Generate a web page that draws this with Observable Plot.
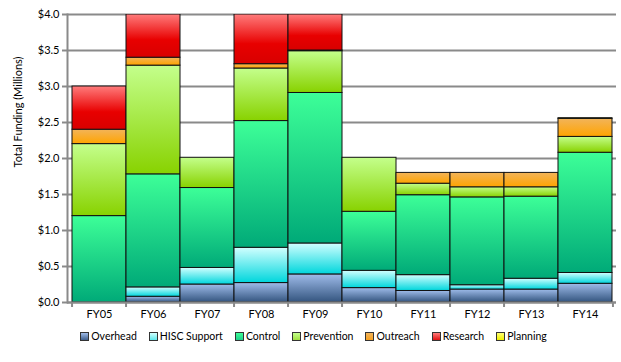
<!DOCTYPE html>
<html>
<head>
<meta charset="utf-8">
<script src="https://cdn.jsdelivr.net/npm/d3@7"></script>
<script src="https://cdn.jsdelivr.net/npm/@observablehq/plot@0.6"></script>
<style>
  html, body { margin: 0; padding: 0; background: #fff; }
  body { width: 621px; height: 362px; overflow: hidden; font-family: Lato, "Liberation Sans", sans-serif; }
  #legend { display: flex; justify-content: center; gap: 12px; font-size: 10.5px; color: #000; margin-top: 7px; margin-left: 6px; line-height: 14px; }
  #legend span.item { display: inline-flex; align-items: center; }
  #legend span.sw { display: inline-block; width: 7px; height: 7px; border: 1px solid #333; margin-right: 2px; }
</style>
</head>
<body>
<svg width="0" height="0" style="position:absolute">
  <defs id="grads"></defs>
</svg>
<div id="chart"></div>
<div id="legend"></div>
<script>
const years = ["FY05","FY06","FY07","FY08","FY09","FY10","FY11","FY12","FY13","FY14"];
const seriesNames = ["Overhead","HISC Support","Control","Prevention","Outreach","Research","Planning"];
const overhead    = [0.00, 0.08, 0.25, 0.27, 0.39, 0.20, 0.16, 0.18, 0.18, 0.26];
const hiscSupport = [0.00, 0.13, 0.23, 0.49, 0.43, 0.24, 0.22, 0.06, 0.15, 0.15];
const control     = [1.20, 1.57, 1.11, 1.76, 2.09, 0.82, 1.11, 1.22, 1.14, 1.67];
const prevention  = [1.00, 1.51, 0.42, 0.73, 0.58, 0.75, 0.16, 0.14, 0.13, 0.22];
const outreach    = [0.20, 0.11, 0.00, 0.06, 0.01, 0.00, 0.15, 0.20, 0.20, 0.25];
const research    = [0.60, 0.60, 0.00, 0.69, 0.50, 0.00, 0.00, 0.00, 0.00, 0.00];
const planning    = [0.00, 0.00, 0.00, 0.00, 0.00, 0.00, 0.00, 0.00, 0.00, 0.01];
const yTicks = [0, 0.5, 1, 1.5, 2, 2.5, 3, 3.5, 4];

// gradient colours (top, bottom) per series
const gradStops = [
  ["#9fbcea", "#34557f"],
  ["#d2ffff", "#00d6dc"],
  ["#3dff98", "#00aa78"],
  ["#c4ff8c", "#88d200"],
  ["#f2b45a", "#ffa400"],
  ["#ff7c7c", "#e80000"],
  ["#ffff70", "#e8e000"]
];
const legendSwatch = ["#3f5f8c","#5ce8ec","#1fd08a","#a0e040","#f6a020","#e01010","#f0f000"];

const defs = document.getElementById("grads");
const ns = "http://www.w3.org/2000/svg";
gradStops.forEach((s, i) => {
  const g = document.createElementNS(ns, "linearGradient");
  g.setAttribute("id", "grad" + i);
  g.setAttribute("x1", "0"); g.setAttribute("y1", "0");
  g.setAttribute("x2", "0"); g.setAttribute("y2", "1");
  const st1 = document.createElementNS(ns, "stop");
  st1.setAttribute("offset", "0"); st1.setAttribute("stop-color", s[0]);
  const st2 = document.createElementNS(ns, "stop");
  st2.setAttribute("offset", i === 5 ? "0.6" : "1"); st2.setAttribute("stop-color", s[1]);
  g.appendChild(st1); g.appendChild(st2);
  if (i === 5) {
    const st3 = document.createElementNS(ns, "stop");
    st3.setAttribute("offset", "1"); st3.setAttribute("stop-color", "#d80000");
    g.appendChild(st3);
  }
  defs.appendChild(g);
});

const allSeries = [overhead, hiscSupport, control, prevention, outreach, research, planning];
const data = [];
years.forEach((yr, j) => {
  allSeries.forEach((arr, i) => {
    data.push({year: yr, series: seriesNames[i], value: arr[j]});
  });
});

const W = 621, H = 322, mL = 67, mR = 5, mT = 14, mB = 20;
const bw = (W - mL - mR) / years.length;
const gridColor = "#8a8a8a";

const chart = Plot.plot({
  width: W, height: H,
  marginLeft: mL, marginRight: mR, marginTop: mT, marginBottom: mB,
  style: {fontFamily: "Lato, 'Liberation Sans', sans-serif", fontSize: "11px", color: "#000", background: "#fff"},
  x: {domain: years, padding: 0, label: null},
  y: {domain: [0, 4], label: null},
  color: {domain: seriesNames, range: seriesNames.map((_, i) => `url(#grad${i})`)},
  marks: [
    Plot.ruleY(yTicks, {stroke: gridColor, strokeWidth: 2}),
    Plot.barY(data.filter(d => d.value > 0), {
      x: "year", y: "value", fill: "series", order: seriesNames,
      stroke: "#111", strokeWidth: 1, inset: 0, clip: true
    }),
    Plot.ruleY([0], {stroke: gridColor, strokeWidth: 2}),
    Plot.frame({anchor: "left", stroke: gridColor, strokeWidth: 2}),
    Plot.axisY({ticks: yTicks, tickFormat: d => "$" + d.toFixed(1), tickSize: 5, tickPadding: 3,
      stroke: gridColor, strokeWidth: 2, fill: "#000", label: null, fontSize: 11}),
    Plot.axisX({tickSize: 0, tickPadding: 8, label: null, fill: "#000", fontSize: 11}),
    Plot.axisX({tickSize: 5, text: null, dx: -bw / 2, stroke: gridColor, strokeWidth: 2, label: null}),
    Plot.axisX({ticks: [years[years.length - 1]], tickSize: 5, text: null, dx: bw / 2, stroke: gridColor, strokeWidth: 2, label: null}),
    Plot.text(["Total Funding (Millions)"], {frameAnchor: "left", rotate: -90, dx: -49, dy: 9, fontSize: 11, fill: "#000"})
  ]
});
document.getElementById("chart").appendChild(chart);

const legend = document.getElementById("legend");
seriesNames.forEach((name, i) => {
  const item = document.createElement("span");
  item.className = "item";
  const sw = document.createElement("span");
  sw.className = "sw";
  sw.style.background = `linear-gradient(${gradStops[i][0]}, ${legendSwatch[i]})`;
  item.appendChild(sw);
  item.appendChild(document.createTextNode(name));
  legend.appendChild(item);
});
</script>
</body>
</html>
